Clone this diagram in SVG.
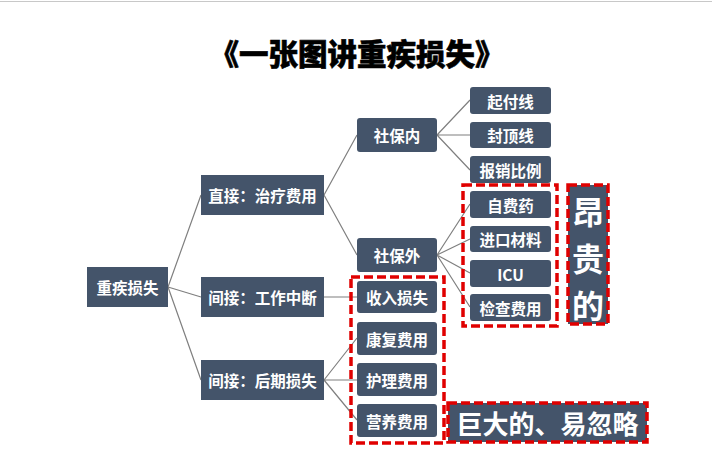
<svg xmlns="http://www.w3.org/2000/svg" width="712" height="474" viewBox="0 0 712 474">
<style>
.n{fill:#44546A}
.t{fill:#fff;font-family:"Noto Sans CJK SC","Noto Sans",sans-serif;font-weight:bold;font-size:15.5px;text-anchor:middle;dominant-baseline:central}
.big{font-size:32px}
.c{stroke:#7f7f7f;stroke-width:1.2;fill:none}
.d{fill:none;stroke:#e00000;stroke-width:3.5;stroke-dasharray:9 4}
.title{font-family:"Noto Sans CJK SC",sans-serif;font-weight:900;font-size:29.5px;text-anchor:middle;fill:#000;stroke:#000;stroke-width:0.6}
</style>
<rect width="712" height="474" fill="#fff"/>
<line x1="0" y1="1.5" x2="712" y2="1.5" stroke="#c8c8c8" stroke-width="1"/>
<text class="title" x="357" y="65">《一张图讲重疾损失》</text>
<g id="connectors">
<path class="c" d="M168 287L201 195M168 287L201 297M168 287L201 380"/>
<path class="c" d="M324 195L357 135M324 195L357 255"/>
<path class="c" d="M437 135L470 100M437 135L470 135M437 135L470 170"/>
<path class="c" d="M437 255L470 204M437 255L470 239M437 255L470 273M437 255L470 307"/>
<path class="c" d="M324 297L357 297"/>
<path class="c" d="M324 380L357 338M324 380L357 380M324 380L357 420"/>
</g>
<g id="root"><rect class="n" x="87" y="267" width="81" height="40"/><text class="t" x="127.5" y="287">重疾损失</text></g>
<g id="direct"><rect class="n" x="201" y="175" width="123" height="40"/><text class="t" x="262.5" y="195">直接：治疗费用</text></g>
<g id="work"><rect class="n" x="201" y="277" width="123" height="40"/><text class="t" x="262.5" y="297">间接：工作中断</text></g>
<g id="later"><rect class="n" x="201" y="360" width="123" height="40"/><text class="t" x="262.5" y="380">间接：后期损失</text></g>
<g id="sbn"><rect class="n" x="357" y="118" width="80" height="34" rx="3"/><text class="t" x="397" y="135">社保内</text></g>
<g id="sbw"><rect class="n" x="357" y="238" width="80" height="34" rx="3"/><text class="t" x="397" y="255">社保外</text></g>
<g id="qfx"><rect class="n" x="470" y="87" width="81" height="27" rx="3"/><text class="t" x="510.5" y="100.5">起付线</text></g>
<g id="fdx"><rect class="n" x="470" y="122" width="81" height="26" rx="3"/><text class="t" x="510.5" y="135">封顶线</text></g>
<g id="bxbl"><rect class="n" x="470" y="156" width="81" height="27" rx="3"/><text class="t" x="510.5" y="169.5">报销比例</text></g>
<g id="zfy"><rect class="n" x="470" y="191" width="81" height="27" rx="3"/><text class="t" x="510.5" y="204.5">自费药</text></g>
<g id="jkcl"><rect class="n" x="470" y="226" width="81" height="26" rx="3"/><text class="t" x="510.5" y="239">进口材料</text></g>
<g id="icu"><rect class="n" x="470" y="260" width="81" height="27" rx="3"/><text class="t" x="510.5" y="273.5">ICU</text></g>
<g id="jcfy"><rect class="n" x="470" y="294" width="81" height="27" rx="3"/><text class="t" x="510.5" y="307.5">检查费用</text></g>
<g id="srss"><rect class="n" x="357" y="281" width="80" height="32" rx="3"/><text class="t" x="397" y="297">收入损失</text></g>
<g id="kffy"><rect class="n" x="357" y="322" width="80" height="33" rx="3"/><text class="t" x="397" y="338.5">康复费用</text></g>
<g id="hlfy"><rect class="n" x="357" y="363" width="80" height="33" rx="3"/><text class="t" x="397" y="379.5">护理费用</text></g>
<g id="yyfy"><rect class="n" x="357" y="404" width="80" height="33" rx="3"/><text class="t" x="397" y="420.5">营养费用</text></g>
<g id="highlight1"><rect class="d" x="463" y="185" width="94" height="141"/></g>
<g id="highlight2"><rect class="d" x="351" y="277" width="93" height="166"/></g>
<g id="expensive"><rect class="n" x="568" y="185" width="40" height="139"/><rect class="d" x="568" y="185" width="40" height="139"/>
<text class="t big" x="588" y="210">昂</text><text class="t big" x="588" y="257">贵</text><text class="t big" x="588" y="304">的</text></g>
<g id="huge"><rect class="n" x="448" y="403" width="199" height="39"/><rect class="d" x="448" y="403" width="199" height="39"/><text class="t" x="547.5" y="422.5" style="font-size:26px">巨大的、易忽略</text></g>
</svg>
